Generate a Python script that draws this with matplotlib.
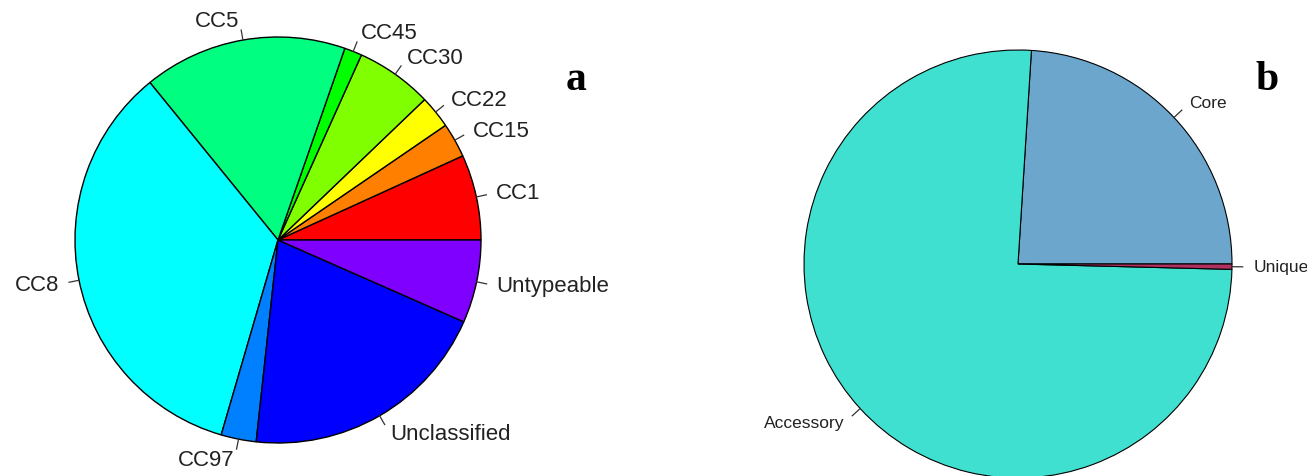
import matplotlib
matplotlib.use('Agg')
import numpy as np
import matplotlib.pyplot as plt

# panel a: clonal complexes (percent of isolates)
cc_labels = ['CC1', 'CC15', 'CC22', 'CC30', 'CC45', 'CC5', 'CC8', 'CC97',
             'Unclassified', 'Untypeable']
cc_values = [6.8, 2.75, 2.6, 6.1, 1.4, 16.2, 34.6, 2.8, 20.1, 6.6]
cc_colors = ['#FF0000', '#FF8000', '#FFFF00', '#80FF00', '#00FF00',
             '#00FF80', '#00FFFF', '#0080FF', '#0000FF', '#8000FF']

# panel b: pan-genome fractions
pan_labels = ['Core', 'Accessory', 'Unique']
pan_values = [24.0, 75.6, 0.4]
pan_colors = ['#6CA6CD', '#40E0D0', '#B03060']

W, H = 1307, 477


def r_pie(ax, values, labels, colors, center, radius, fsize, lw):
    # pie drawn like R's pie(): start at 3 o'clock, counter-clockwise,
    # tick from 1.0 to 1.05 radius, label at 1.1 radius
    wedges, _ = ax.pie(values, colors=colors, startangle=0, counterclock=True,
                       center=center, radius=radius,
                       wedgeprops=dict(edgecolor='black', linewidth=lw))
    cx, cy = center
    for w, lab in zip(wedges, labels):
        th = np.deg2rad((w.theta1 + w.theta2) / 2)
        c, s = np.cos(th), np.sin(th)
        ax.plot([cx + radius * c, cx + 1.05 * radius * c],
                [cy + radius * s, cy + 1.05 * radius * s],
                color='#333333', lw=0.9)
        ax.text(cx + 1.1 * radius * c, cy + 1.1 * radius * s, lab,
                ha='left' if c >= 0 else 'right', va='center',
                fontsize=fsize, color='#222222', family='Liberation Sans')


fig = plt.figure(figsize=(W / 100, H / 100), dpi=100)
ax = fig.add_axes([0, 0, 1, 1])

r_pie(ax, cc_values, cc_labels, cc_colors, (278, H - 241), 203, 16, 1.0)
r_pie(ax, pan_values, pan_labels, pan_colors, (1018, H - 265), 214, 12.5, 0.8)

ax.text(576, H - 90, 'a', ha='center', va='baseline', fontsize=30,
        fontweight='bold', family='Liberation Serif')
ax.text(1267, H - 90, 'b', ha='center', va='baseline', fontsize=30,
        fontweight='bold', family='Liberation Serif')

ax.set_xlim(0, W)
ax.set_ylim(0, H)
ax.set_aspect('auto')
ax.axis('off')

fig.savefig('out.png', dpi=100)
